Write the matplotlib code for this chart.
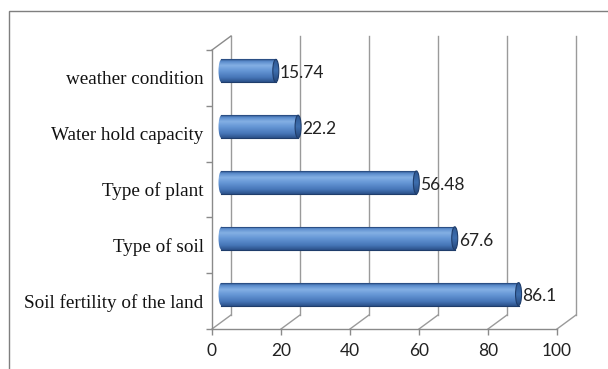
import numpy as np
import matplotlib
matplotlib.use("Agg")
import matplotlib.pyplot as plt
from matplotlib.patches import Rectangle, Ellipse
from matplotlib.colors import LinearSegmentedColormap

# Survey factors and their share (%)
factors = ["Soil fertility of the land", "Type of soil", "Type of plant",
           "Water hold capacity", "weather condition"]
values = [86.1, 67.6, 56.48, 22.2, 15.74]
value_labels = ["86.1", "67.6", "56.48", "22.2", "15.74"]
x_ticks = [0, 20, 40, 60, 80, 100]

W, H = 608, 369
fig = plt.figure(figsize=(W / 100, H / 100), dpi=100)
fig.patch.set_facecolor("white")

# outer chart border (open to the right/bottom edge)
fig.add_artist(Rectangle((9 / W, -0.1), 1.2, (H - 11) / H + 0.1,
                         transform=fig.transFigure, fill=False,
                         edgecolor="#7f7f7f", lw=1.0))

# axes = front plane of the 3-D box
ax = fig.add_axes([212 / W, 1 - 329 / H, (557 - 212) / W, (329 - 50) / H])
ax.set_xlim(0, 100)
ax.set_ylim(0, len(factors))
for s in ax.spines.values():
    s.set_visible(False)
ax.patch.set_alpha(0)

# depth of the box in data units
dx = 19 / 345 * 100
dy = 14 / 279 * len(factors)

grid_c = "#9a9a9a"
axis_c = "#8a8a8a"
n = len(factors)

# back wall gridlines and floor lines
for v in x_ticks:
    ax.plot([v + dx, v + dx], [dy, n + dy], color=grid_c, lw=1.0, clip_on=False)
    ax.plot([v, v + dx], [0, dy], color=grid_c, lw=1.0, clip_on=False)

# left wall edges and front axes
ax.plot([0, 0], [0, n], color=axis_c, lw=1.0, clip_on=False)
ax.plot([0, dx], [n, n + dy], color=axis_c, lw=1.0, clip_on=False)
ax.plot([0, 100], [0, 0], color=axis_c, lw=1.0, clip_on=False)

# ticks
ax.set_xticks(x_ticks)
ax.set_xticklabels([str(t) for t in x_ticks], family="Lato", fontsize=12.5,
                   color="#222222")
ax.tick_params(axis="x", length=4, width=1.0, color=axis_c, pad=6)
ax.set_yticks(np.arange(n) + 0.5)
ax.set_yticklabels(factors, family="Liberation Serif", fontsize=13.8,
                   color="#111111")
ax.tick_params(axis="y", length=0, pad=6)
ax.set_yticks(np.arange(n + 1), minor=True)
ax.tick_params(axis="y", which="minor", length=4, width=1.0, color=axis_c)

# cylinder shading
body_cmap = LinearSegmentedColormap.from_list(
    "body", [(0.0, "#2c5289"), (0.1, "#5a8bcb"), (0.28, "#84b0e4"),
             (0.5, "#6697d6"), (0.8, "#4676b8"), (1.0, "#2b5088")])
cap_cmap = LinearSegmentedColormap.from_list(
    "cap", [(0.0, "#24467a"), (0.5, "#3e6eae"), (1.0, "#2e5892")])
grad = np.linspace(1, 0, 256).reshape(-1, 1)

bar_h = 23 / 279 * n
cap_w = 6 / 345 * 100

for i, (v, lab) in enumerate(zip(values, value_labels)):
    yc = i + 0.5 + dy / 2 + 0.0
    x0 = dx / 2
    x1 = v + dx / 2
    y0 = yc - bar_h / 2
    ext = (x0 - cap_w, x1, y0, y0 + bar_h)
    body = Rectangle((x0, y0), x1 - x0, bar_h, transform=ax.transData)
    left = Ellipse((x0, yc), cap_w, bar_h, transform=ax.transData)
    for clip in (body, left):
        im = ax.imshow(1 - grad, cmap=body_cmap, extent=ext, aspect="auto",
                       origin="upper", zorder=3, interpolation="bilinear")
        im.set_clip_path(clip)
    ax.plot([x0, x1], [y0 + bar_h, y0 + bar_h], color="#2b4f85", lw=0.8, zorder=4)
    ax.plot([x0, x1], [y0, y0], color="#1f3d6b", lw=0.8, zorder=4)
    cap = Ellipse((x1, yc), cap_w, bar_h, transform=ax.transData)
    im = ax.imshow(grad, cmap=cap_cmap,
                   extent=(x1 - cap_w / 2, x1 + cap_w / 2, y0, y0 + bar_h),
                   aspect="auto", origin="upper", zorder=5, interpolation="bilinear")
    im.set_clip_path(cap)
    ax.add_patch(Ellipse((x1, yc), cap_w, bar_h, fill=False,
                         edgecolor="#1f3d6b", lw=0.8, zorder=6))
    ax.text(x1 + cap_w / 2 + 0.3, yc - 0.04, lab, family="Lato", fontsize=12.5,
            color="#222222", va="center", ha="left", zorder=7)

ax.set_xlim(0, 100)
ax.set_ylim(0, n)

fig.savefig("out.png", dpi=100)
